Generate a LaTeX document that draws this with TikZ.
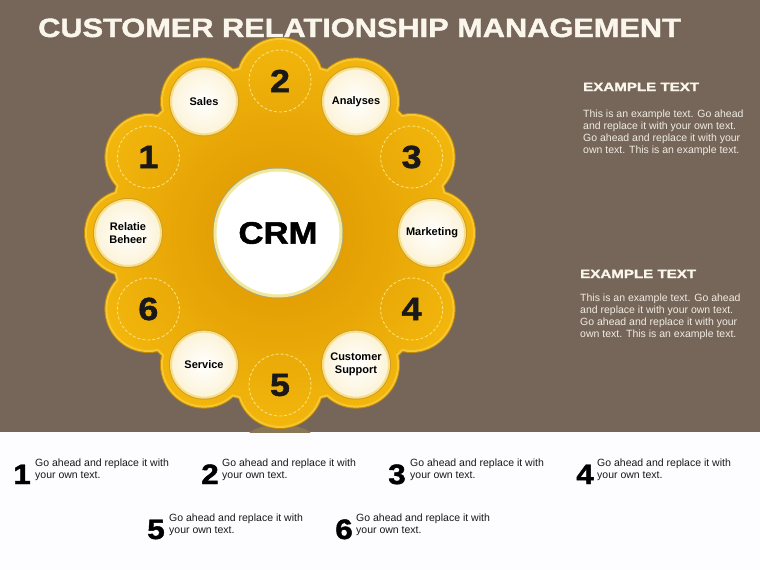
\documentclass[tikz,border=0pt]{standalone}
\usepackage{fontspec}
\setmainfont{Liberation Sans}
\newfontfamily\hvy{Liberation Sans}[FakeStretch=1.12,FakeBold=1.6]
\newfontfamily\hvyt{Liberation Sans}[FakeStretch=1.16,FakeBold=1.6]
\newfontfamily\hvyw{Liberation Sans}[FakeStretch=1.26,FakeBold=1.6]
\definecolor{bg}{HTML}{756659}
\definecolor{lowbg}{HTML}{FDFCFE}
\definecolor{golddk}{HTML}{C58A00}
\definecolor{goldrim}{HTML}{F6C838}
\definecolor{goldin}{HTML}{DC9400}
\definecolor{goldout}{HTML}{F2B60C}
\definecolor{dashc}{HTML}{F9E07A}
\definecolor{wrim}{HTML}{F8DF86}
\definecolor{wedge}{HTML}{CF9D2C}
\definecolor{wcream}{HTML}{FCF3D8}
\definecolor{crmrim}{HTML}{F3E79A}
\definecolor{crmline}{HTML}{A9A77E}
\definecolor{cream}{HTML}{FBF6EC}
\definecolor{bodyc}{HTML}{F1EBE3}
\definecolor{refl}{HTML}{8A7756}
\tikzset{
  whitec/.style={circle, minimum size=66pt, inner sep=0pt, align=center,
    draw=wrim, line width=2pt, inner color=white, outer color=wcream,
    preaction={draw=wedge, line width=4pt},
    font=\bfseries\fontsize{11}{13}\selectfont, text=black},
  numc/.style={circle, minimum size=62pt, inner sep=0pt, draw=dashc,
    line width=0.9pt, dash pattern=on 3pt off 2pt,
    font=\hvy\bfseries\fontsize{32}{34}\selectfont, text=black!90},
  crmc/.style={circle, minimum size=126pt, inner sep=0pt, draw=crmrim,
    line width=3pt, fill=white, preaction={draw=crmline, line width=5pt},
    font=\hvy\bfseries\fontsize{31}{33}\selectfont, text=black},
  head/.style={anchor=base west, inner sep=0pt, text=cream,
    font=\hvyw\bfseries\fontsize{12}{14}\selectfont},
  body/.style={anchor=north west, inner sep=0pt, align=left, text=bodyc,
    font=\fontsize{10.5}{12}\selectfont},
  bignum/.style={anchor=base, inner sep=0pt, text=black,
    font=\hvy\bfseries\fontsize{28}{30}\selectfont},
  legtext/.style={anchor=north west, inner sep=0pt, align=left, text=black!90,
    font=\fontsize{10.5}{12}\selectfont}
}
\begin{document}
\begin{tikzpicture}[x=1pt,y=-1pt]
\path[use as bounding box] (0,0) rectangle (760,570);
\fill[bg] (0,0) rectangle (760,432);
\fill[lowbg] (0,432) rectangle (760,570);
% reflection
\begin{scope}
\clip (0,0) rectangle (760,432);
\fill[refl] (280,436) ellipse (32pt and 11pt);
\end{scope}
% title
\node[anchor=base west, inner sep=0pt, text=cream,
  font=\hvyt\bfseries\fontsize{26.5}{30}\selectfont] (title) at (38,37)
  {CUSTOMER RELATIONSHIP MANAGEMENT};
% ring
\coordinate (c) at (280,233);
\fill[golddk] (c) circle (171pt)
  \foreach \a in {0,30,...,330} { (c) ++(\a:152) circle (44pt) };
\fill[goldrim] (c) circle (170pt)
  \foreach \a in {0,30,...,330} { (c) ++(\a:152) circle (43pt) };
\shade[inner color=goldin, outer color=goldout] (c) circle (168pt)
  \foreach \a in {0,30,...,330} { (c) ++(\a:152) circle (41pt) };
% positions
\path (c) ++(-90:152) coordinate (q2)
      (c) ++(-60:152) coordinate (qana)
      (c) ++(-30:152) coordinate (q3)
      (c) ++(0:152) coordinate (qmkt)
      (c) ++(30:152) coordinate (q4)
      (c) ++(60:152) coordinate (qcs)
      (c) ++(90:152) coordinate (q5)
      (c) ++(120:152) coordinate (qsrv)
      (c) ++(150:152) coordinate (q6)
      (c) ++(180:152) coordinate (qrel)
      (c) ++(210:152) coordinate (q1)
      (c) ++(240:152) coordinate (qsal);
\node[crmc] (crm) at (278,233) {CRM};
\node[numc] (n2) at (q2) {2};
\node[numc] (n3) at (q3) {3};
\node[numc] (n4) at (q4) {4};
\node[numc] (n5) at (q5) {5};
\node[numc] (n6) at (q6) {6};
\node[numc] (n1) at (q1) {1};
\node[whitec] (ana) at (qana) {Analyses};
\node[whitec] (mkt) at (qmkt) {Marketing};
\node[whitec] (cs) at (qcs) {Customer\\Support};
\node[whitec] (srv) at (qsrv) {Service};
\node[whitec] (rel) at (qrel) {Relatie\\Beheer};
\node[whitec] (sal) at (qsal) {Sales};
% right panels
\node[head] (h1) at (583,91) {EXAMPLE TEXT};
\node[body] (b1) at (583,109.5) {This is an example text. Go ahead\\and replace it with your own text.\\Go ahead and replace it with your\\own text. This is an example text.};
\node[head] (h2) at (580,278) {EXAMPLE TEXT};
\node[body] (b2) at (580,294) {This is an example text. Go ahead\\and replace it with your own text.\\Go ahead and replace it with your\\own text. This is an example text.};
% legend
\node[bignum] (l1) at (22,484) {1};
\node[legtext] (t1) at (35,459) {Go ahead and replace it with\\your own text.};
\node[bignum] (l2) at (210,484) {2};
\node[legtext] (t2) at (222,459) {Go ahead and replace it with\\your own text.};
\node[bignum] (l3) at (397,484) {3};
\node[legtext] (t3) at (410,459) {Go ahead and replace it with\\your own text.};
\node[bignum] (l4) at (585,484) {4};
\node[legtext] (t4) at (597,459) {Go ahead and replace it with\\your own text.};
\node[bignum] (l5) at (156,539) {5};
\node[legtext] (t5) at (169,514) {Go ahead and replace it with\\your own text.};
\node[bignum] (l6) at (344,539) {6};
\node[legtext] (t6) at (356,514) {Go ahead and replace it with\\your own text.};
\end{tikzpicture}
\end{document}
